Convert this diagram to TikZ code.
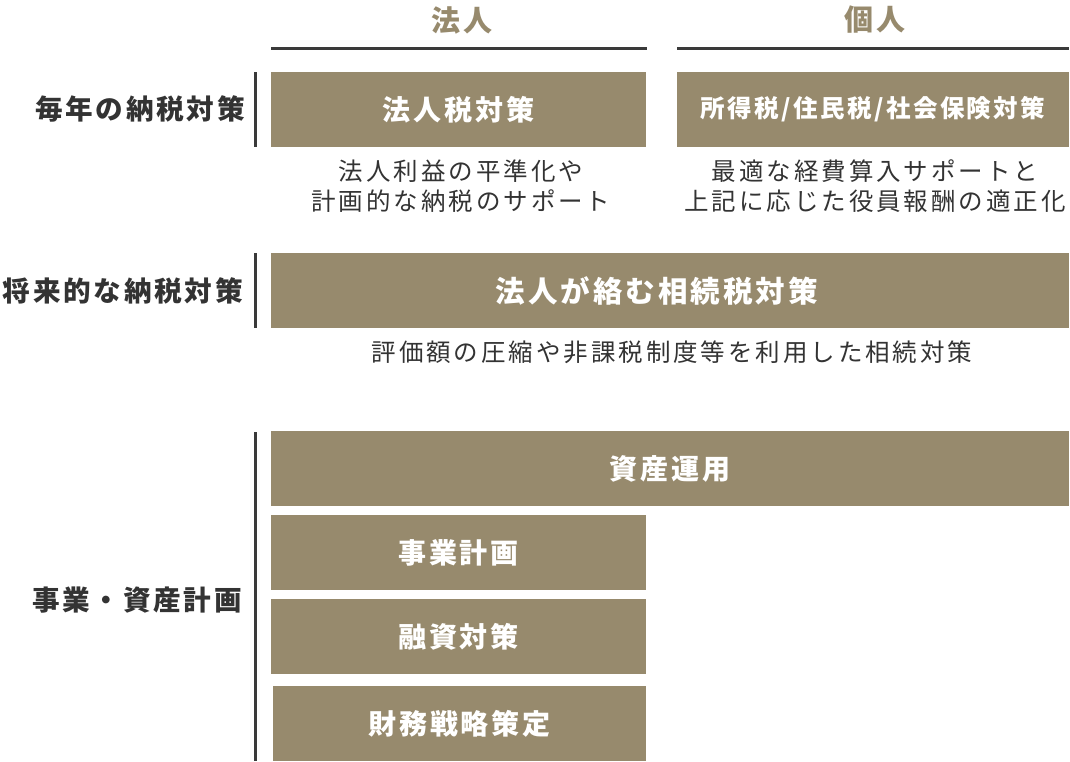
\documentclass[tikz,border=0pt]{standalone}
\usepackage{fontspec}
\setmainfont{Noto Sans CJK JP}
\newfontfamily\platefont[LetterSpace=10]{Noto Sans CJK JP}
\newfontfamily\notefont[LetterSpace=12]{Noto Sans CJK JP}
\usetikzlibrary{positioning}
\definecolor{tan}{RGB}{151,138,109}
\definecolor{ink}{RGB}{51,51,51}
\definecolor{rule}{RGB}{58,58,58}
\tikzset{
  plate/.style={rectangle, fill=tan, draw=none, text=white, inner sep=0pt,
    font=\platefont\bfseries\fontsize{28}{30}\selectfont},
  half/.style={plate, minimum width=375, minimum height=75},
  full/.style={plate, minimum width=798, minimum height=75},
  side/.style={anchor=east, text=ink, inner sep=0pt,
    font=\platefont\bfseries\fontsize{27.6}{30}\selectfont},
  head/.style={text=tan, inner sep=0pt,
    font=\platefont\bfseries\fontsize{29}{30}\selectfont},
  note/.style={text=ink, inner sep=0pt, align=center,
    font=\notefont\fontsize{24.5}{30}\selectfont},
  bar/.style={rule, line width=3pt}
}

\begin{document}
\begin{tikzpicture}[x=1pt, y=-1pt]
  \useasboundingbox[fill=white] (0,0) rectangle (1070,761);
  % column heads
  \node[head] (H1) at (462,20) {法人};
  \node[head] (H2) at (875,20) {個人};
  \coordinate (R1a) at (271,48);
  \coordinate (R1b) at (647,48);
  \coordinate (R2a) at (677,48);
  \coordinate (R2b) at (1069,48);
  \draw[bar] (R1a) -- (R1b);
  \draw[bar] (R2a) -- (R2b);
  % rows
  \node[side] (L1) at (245,109) {毎年の納税対策};
  \node[side] (L2) at (243,291) {将来的な納税対策};
  \node[side] (L3) at (242,600) {事業・資産計画};
  \coordinate (B1a) at (255,72);
  \coordinate (B1b) at (255,147);
  \coordinate (B2a) at (255,253);
  \coordinate (B2b) at (255,328);
  \coordinate (B3a) at (255,432);
  \coordinate (B3b) at (255,761);
  \draw[bar] (B1a) -- (B1b);
  \draw[bar] (B2a) -- (B2b);
  \draw[bar] (B3a) -- (B3b);
  % boxes
  \node[half] (A) at (458.5,109.5) {法人税対策};
  \node[plate, minimum width=392, minimum height=75, font=\platefont\bfseries\fontsize{24.5}{30}\selectfont] (B) at (873,109.5) {所得税/住民税/社会保険対策};
  \node[full, font=\platefont\bfseries\fontsize{29.5}{30}\selectfont] (C) at (670,290.5) {法人が絡む相続税対策\hspace*{0.9em}};
  \node[full] (D) at (670,468.5) {資産運用};
  \node[half] (E) at (458.5,552.5) {事業計画};
  \node[half] (F) at (458.5,636.5) {融資対策};
  \node[half, minimum width=373] (G) at (459.5,723.5) {財務戦略策定};
  % notes
  \node[note] (NA) at (461,186) {法人利益の平準化や\\計画的な納税のサポート};
  \node[note] (NB) at (875,186) {最適な経費算入サポートと\\上記に応じた役員報酬の適正化};
  \node[note] (NC) at (672,352) {評価額の圧縮や非課税制度等を利用した相続対策};
\end{tikzpicture}
\end{document}
